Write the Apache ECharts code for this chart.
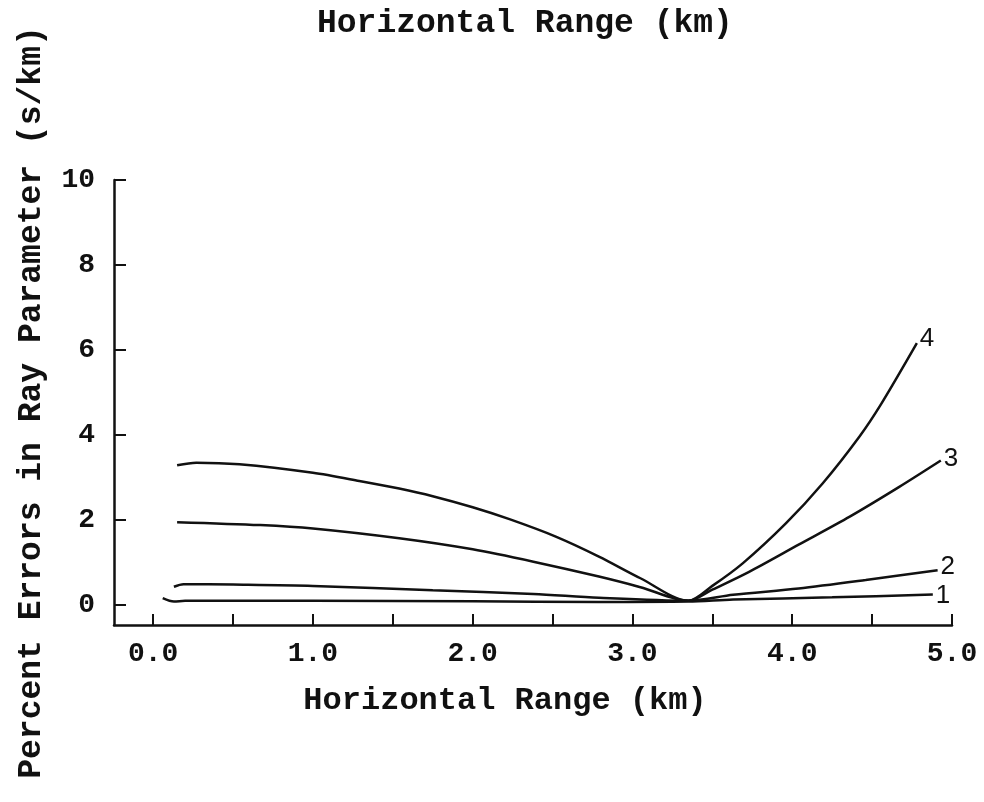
<!DOCTYPE html>
<html lang="en">
<head>
    <meta charset="utf-8">
    <title>Percent Errors in Ray Parameter</title>
    <script src="https://cdn.jsdelivr.net/npm/echarts@6/dist/echarts.min.js"></script>
    <style>
        html, body {margin: 0; padding: 0; background: #fff;}
        #main {width: 984px; height: 802px;}
    </style>
</head>
<body>
<div id="main"></div>
<script type="text/javascript">
    // curves: [range km, percent error]
    var curve1 = [[0.06, 0.16], [0.13, 0.08], [0.20, 0.10], [1.0, 0.10], [2.0, 0.09], [2.79, 0.07],
        [3.35, 0.08], [3.63, 0.13], [4.25, 0.18], [4.88, 0.25]];
    var curve2 = [[0.13, 0.43], [0.19, 0.49], [0.5, 0.48], [1.0, 0.45], [1.75, 0.35], [2.38, 0.26],
        [2.79, 0.17], [3.35, 0.10], [3.63, 0.24], [4.04, 0.39], [4.46, 0.59], [4.91, 0.82]];
    var curve3 = [[0.15, 1.95], [0.67, 1.88], [1.0, 1.80], [1.54, 1.57], [2.0, 1.31], [2.38, 1.02],
        [2.79, 0.67], [3.05, 0.42], [3.35, 0.10], [3.5, 0.36], [3.73, 0.78], [4.04, 1.42],
        [4.36, 2.08], [4.67, 2.78], [4.93, 3.40]];
    var curve4 = [[0.15, 3.29], [0.27, 3.35], [0.54, 3.31], [1.0, 3.11], [1.29, 2.92], [1.54, 2.74],
        [1.75, 2.56], [2.0, 2.30], [2.23, 2.02], [2.52, 1.61], [2.79, 1.14], [3.05, 0.63],
        [3.35, 0.10], [3.5, 0.45], [3.69, 0.98], [3.96, 1.92], [4.19, 2.86], [4.42, 3.96],
        [4.56, 4.75], [4.78, 6.16]];
    var curveNames = ['1', '2', '3', '4'];

    var xTicks = [0, 0.5, 1, 1.5, 2, 2.5, 3, 3.5, 4, 4.5, 5];
    var xLabels = [0, 1, 2, 3, 4, 5];
    var yTicks = [0, 2, 4, 6, 8, 10];

    var serif = "'Liberation Mono', 'Courier New', monospace";
    var black = '#111';

    var myChart = echarts.init(document.getElementById('main'));

    function makeSeries(data, name, offset) {
        return {
            name: name,
            type: 'line',
            data: data,
            showSymbol: false,
            smooth: 0.3,
            lineStyle: {color: black, width: 2.5},
            endLabel: {
                show: true,
                formatter: name,
                distance: 3,
                offset: offset,
                color: black,
                fontFamily: "'Liberation Sans', Arial, sans-serif",
                fontSize: 26
            }
        };
    }

    var option = {
        animation: false,
        backgroundColor: '#fff',
        title: {
            text: 'Horizontal Range (km)',
            left: 312,
            top: 2,
            textStyle: {fontFamily: serif, fontSize: 33, fontWeight: 'bold', color: black}
        },
        grid: {left: 114, right: 32, top: 180, bottom: 177},
        xAxis: {
            type: 'value',
            min: -0.245,
            max: 5,
            name: 'Horizontal Range (km)',
            nameLocation: 'middle',
            nameGap: 60,
            nameTextStyle: {fontFamily: serif, fontSize: 32, fontWeight: 'bold', color: black, padding: [0, 56, 0, 0]},
            axisLine: {onZero: false, lineStyle: {color: black, width: 2.5}},
            axisTick: {inside: true, length: 11, customValues: xTicks, lineStyle: {color: black, width: 2}},
            axisLabel: {
                customValues: xLabels,
                margin: 15,
                fontFamily: serif, fontSize: 28, fontWeight: 'bold', color: black,
                formatter: function (v) { return v.toFixed(1); }
            },
            splitLine: {show: false}
        },
        yAxis: {
            type: 'value',
            min: -0.47,
            max: 10,
            name: 'Percent Errors in Ray Parameter (s/km)',
            nameLocation: 'middle',
            nameGap: 66,
            nameTextStyle: {fontFamily: serif, fontSize: 33, fontWeight: 'bold', color: black},
            axisLine: {onZero: false, lineStyle: {color: black, width: 2.5}},
            axisTick: {inside: true, length: 12, customValues: yTicks, lineStyle: {color: black, width: 2}},
            axisLabel: {
                customValues: yTicks,
                margin: 19,
                fontFamily: serif, fontSize: 28, fontWeight: 'bold', color: black
            },
            splitLine: {show: false}
        },
        series: [
            makeSeries(curve1, curveNames[0], [0, 1]),
            makeSeries(curve2, curveNames[1], [0, -3]),
            makeSeries(curve3, curveNames[2], [0, -2]),
            makeSeries(curve4, curveNames[3], [0, -4])
        ]
    };
    myChart.setOption(option);
</script>
</body>
</html>
